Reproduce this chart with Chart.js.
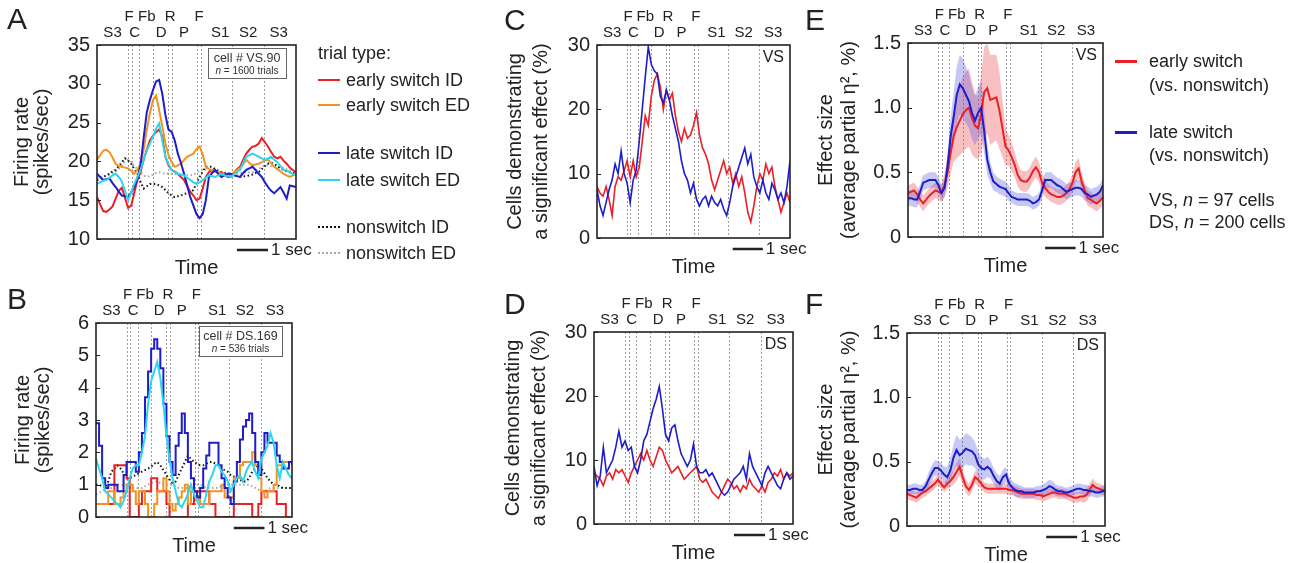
<!DOCTYPE html>
<html>
<head>
<meta charset="utf-8">
<title>Switch-related activity</title>
<script src="https://cdn.jsdelivr.net/npm/chart.js@4.4.1/dist/chart.umd.min.js"></script>
<style>
  body { margin: 0; background: #fff; }
  #fig { position: relative; width: 1311px; height: 563px; overflow: hidden; color: #222;
         font-family: "Liberation Sans", Arial, Helvetica, sans-serif; }
  #fig canvas { position: absolute; }
  .lbl { position: absolute; white-space: nowrap; }
  .sw { position: absolute; height: 0; }
</style>
</head>
<body>
<div id="fig"></div>
<script>
var FONT = '"Liberation Sans", Arial, Helvetica, sans-serif';
Chart.defaults.font.family = FONT;
Chart.defaults.color = '#222';

// time axis (sec), shared by all panels
var T = [0,0.1,0.2,0.3,0.4,0.5,0.6,0.7,0.8,0.9,
         1,1.1,1.2,1.3,1.4,1.5,1.6,1.7,1.8,1.9,
         2,2.1,2.2,2.3,2.4,2.5,2.6,2.7,2.8,2.9,
         3,3.1,3.2,3.3,3.4,3.5,3.6,3.7,3.8,3.9,
         4,4.1,4.2,4.3,4.4,4.5,4.6,4.7,4.8,4.9,
         5,5.1,5.2,5.3,5.4,5.5,5.6,5.7,5.8,5.9,
         6,6.1,6.2,6.3,6.4];

// task events (dotted lines) and their labels
var EVENT_T = [1.0, 1.11, 1.36, 1.79, 2.29, 2.40, 3.23, 3.34, 4.35, 5.38];
var TOP_LABELS = ['F', 'Fb', 'R', 'F'];
var TOP_T = [1.03, 1.6, 2.35, 3.28];
var BOT_LABELS = ['S3', 'C', 'D', 'P', 'S1', 'S2', 'S3'];
var BOT_T = [0.5, 1.21, 2.06, 2.8, 3.96, 4.86, 5.84];
var SCALE_BAR = [4.5, 5.5];

// A: cell VS.90 firing rate (spikes/sec)
var A_EARLY_ID = [15.4,14.5,13.6,13.5,13.8,14.2,15.2,16.2,16.6,15.3,
  14.0,14.3,16.0,17.6,18.6,20.2,21.5,22.7,23.3,23.8,
  24.1,23.2,20.6,19.5,18.9,18.7,18.4,18.0,17.6,16.8,
  16.1,15.6,15.0,15.2,16.5,18.0,18.6,18.9,18.7,18.5,
  18.6,18.3,18.0,18.0,18.5,19.0,19.3,20.2,21.0,21.5,
  21.9,22.0,22.3,23.0,22.5,21.9,21.2,20.6,20.4,20.6,
  20.1,19.7,19.2,18.9,18.6];
var A_EARLY_ED = [20.2,20.8,21.4,21.5,21.2,20.5,19.7,19.4,19.3,19.2,
  19.1,18.8,18.4,18.9,19.7,21.5,24.0,26.2,27.9,28.5,
  26.6,24.5,22.3,20.8,19.9,19.3,19.5,19.7,20.2,20.6,
  20.8,21.0,21.6,21.9,20.9,19.3,19.0,18.9,18.7,18.6,
  18.4,18.3,18.2,18.2,18.6,18.9,19.1,19.6,20.2,19.8,
  19.5,19.6,19.7,19.9,20.1,20.2,19.8,19.3,19.0,18.7,
  18.4,18.2,18.0,18.2,18.4];
var A_LATE_ID = [18.4,18.0,17.6,17.7,17.8,17.2,16.7,16.1,15.6,15.5,
  15.4,16.0,16.7,17.8,19.5,23.0,26.3,27.9,29.2,30.3,
  30.5,28.7,26.0,24.1,23.8,22.7,21.0,19.8,18.4,16.9,
  15.4,14.3,13.2,12.7,13.2,15.0,18.0,18.5,18.9,18.4,
  18.0,18.2,18.4,18.4,18.2,18.1,18.0,18.5,18.9,19.1,
  19.3,18.9,18.4,18.0,17.3,16.7,16.2,15.9,16.3,16.7,
  16.0,15.2,16.9,16.8,16.7];
var A_LATE_ED = [17.1,17.3,17.5,17.6,17.9,18.2,18.4,18.0,17.4,16.2,
  15.0,16.0,17.1,18.0,18.9,20.2,21.4,22.3,23.2,24.2,
  24.9,22.7,20.6,19.7,18.9,18.6,18.4,18.3,18.2,17.9,
  17.6,17.3,17.1,17.3,17.6,17.9,18.2,18.1,18.0,18.2,
  18.4,18.2,18.1,18.0,18.3,18.6,18.9,19.8,20.6,20.8,
  21.0,20.8,20.6,20.4,20.2,20.4,20.6,20.2,19.9,19.4,
  18.9,18.8,18.6,18.4,18.2];
var A_NON_ID = [17.6,17.8,18.0,18.2,18.4,18.7,18.9,19.4,19.9,20.4,
  20.1,19.7,19.0,18.4,17.4,16.5,16.8,17.1,17.1,17.1,
  16.9,16.7,16.3,15.9,15.6,15.4,15.5,15.6,15.8,15.9,
  16.1,16.3,17.2,18.0,18.7,19.3,19.3,19.3,19.0,18.8,
  18.6,18.5,18.4,18.4,18.3,18.1,18.0,18.1,18.1,18.2,
  18.3,18.5,18.6,19.0,19.4,19.7,19.8,19.7,19.4,19.1,
  18.9,18.7,18.6,18.5,18.4];
var A_NON_ED = [17.8,17.9,18.0,18.2,18.3,18.5,18.7,19.0,19.5,20.0,
  20.2,19.9,19.4,19.0,18.6,18.2,18.0,18.1,18.3,18.5,
  18.6,18.5,18.4,18.4,18.4,18.4,18.3,18.3,18.2,18.2,
  18.2,18.3,18.5,18.8,19.0,19.0,18.9,18.8,18.7,18.6,
  18.6,18.5,18.5,18.4,18.4,18.4,18.5,18.5,18.6,18.6,
  18.6,18.8,19.0,19.3,19.5,19.5,19.4,19.3,19.2,19.2,
  19.2,19.0,18.9,18.7,18.6];

// B: cell DS.169 firing rate (spikes/sec)
var B_EARLY_ID = [0.4,0.4,0.4,0.4,0.4,0.4,1.6,1.6,1.6,1.6,
  1.2,0,0,0,0.4,0.8,0.8,0.8,1.2,1.2,
  0.8,0.8,0.8,0.4,0,0,0,0,0,0,
  0.4,0.4,0.8,0.8,0.8,0.8,0.8,0.4,0.4,0,
  0,0,0,0,0,0.4,0.4,0.4,0.4,0.4,
  0.4,0,0,0.4,0.8,0.8,0.8,0.8,0.8,0.4,
  0.4,0.4,0,0,0];
var B_EARLY_ED = [0.4,0.4,0.4,0.4,0.8,0.8,0.4,0.4,0.6,0.8,
  1.0,1.0,0.8,0.4,0.8,0.8,0.4,0,0,0.4,
  0.8,0.8,1.2,0.8,0.4,0.2,0.4,0.6,0.8,1.0,
  0.4,0.8,0.8,0.6,0.4,0.4,0.4,0.8,0.8,0.8,
  0.8,1.0,0.6,0.6,0.6,1.2,1.2,1.6,1.7,1.7,
  1.7,2.0,1.6,1.2,0.8,0.6,0.8,0.8,1.0,1.6,
  1.6,1.7,1.7,1.7,1.7];
var B_LATE_ID = [2.9,2.2,1.2,0.9,1.0,1.0,1.0,0.8,0.8,1.3,
  1.7,1.7,1.7,1.4,2.0,2.6,3.7,4.5,5.2,5.5,
  5.2,4.6,3.5,2.5,1.7,1.3,2.2,2.6,3.2,2.6,
  1.7,1.2,0.8,0.6,0.9,1.5,1.9,2.3,2.3,2.3,
  1.6,1.2,0.9,0.6,0.4,1.1,1.7,2.4,2.8,3.0,
  3.2,2.6,1.7,1.3,2.0,2.6,2.3,2.3,2.3,1.9,
  1.7,1.5,1.5,1.7,1.6];
var B_LATE_ED = [1.8,1.5,1.2,0.8,0.7,0.6,0.5,0.4,0.3,0.5,
  0.8,1.2,1.5,1.6,1.6,2.0,2.5,3.5,4.2,4.5,
  4.8,4.3,3.5,2.5,1.8,1.2,0.8,0.4,0.3,0.5,
  0.7,1.0,0.7,0.5,0.3,0.3,0.7,1.1,1.3,1.6,
  1.6,1.4,1.3,1.1,0.8,1.0,1.2,1.3,1.1,1.4,
  1.6,1.7,1.4,1.2,1.8,2.0,2.2,2.6,2.3,1.6,
  1.2,1.7,1.5,1.3,1.2];
var B_NON_ID = [1.0,1.0,0.95,0.9,1.1,1.4,1.5,1.6,1.5,1.35,
  1.2,1.2,1.25,1.3,1.35,1.4,1.45,1.5,1.55,1.65,
  1.7,1.6,1.45,1.3,1.15,1.05,1.1,1.3,1.5,1.7,
  1.9,1.8,1.7,1.65,1.6,1.6,1.65,1.7,1.7,1.65,
  1.6,1.5,1.45,1.4,1.3,1.25,1.2,1.15,1.1,1.1,
  1.2,1.4,1.5,1.6,1.5,1.35,1.2,1.1,1.0,1.0,
  0.95,0.9,0.9,0.9,0.9];
var B_NON_ED = [0.7,0.75,0.8,0.85,0.9,0.9,0.95,1.0,1.0,1.0,
  1.0,0.95,0.9,0.9,0.9,0.9,0.95,1.0,1.05,1.1,
  1.1,1.05,1.0,1.0,1.0,1.0,0.95,0.9,0.9,0.9,
  0.9,0.95,1.0,1.0,1.0,0.95,0.9,0.9,0.9,0.9,
  0.9,0.95,1.0,1.0,1.0,1.0,1.0,1.0,1.0,1.0,
  1.0,0.95,0.9,0.85,0.8,0.8,0.85,0.9,0.9,0.9,
  0.9,0.9,0.9,0.9,0.9];

// C, D: cells demonstrating a significant effect (%)
var C_EARLY = [8,7,6.5,8,6,3.5,8,9.5,9,10.5,
  12,9.5,12,9.5,11,15,19,17.5,22,24.5,
  25.5,23.5,20,23,21.5,22.5,19,16.5,15,17,
  15.5,16,17.5,19.5,16,14,13,11.5,9,7.5,
  9,10.5,12,10,11,8.5,10,8,9.5,7,
  4,2.5,5,8,10,9,11.5,10,11,8,
  6,4,5.5,7,5.5];
var C_LATE = [7.5,5,3.5,5.5,7.5,9,11.5,10,13.5,10,
  8.5,5.5,9,10.5,15,20,25,29.7,27,26,
  25.5,22,21,23,21.5,19,17,15,12,10,
  9,7,8.5,6,5,6,6.5,5,6.5,5.5,
  5,6,4.5,3.5,5.5,8,9.5,11,12.5,14,
  11.5,13,9.5,8,7,9,7,6,8.5,7.5,
  6,7,5.5,8,12];
var D_EARLY = [8,7.5,7,6,7.5,8,7,8.5,8,8.5,
  7.5,6.5,8,9,10,11,10,11.5,10,9,
  10.5,12,11.5,10,9,8,8.5,9,8,7,
  7.5,8,8.5,9,7,6.5,7,6,5,4.5,
  4,5,6,7,6.5,5.5,6,5,6,5.5,
  7,6,5.5,5,6,5,6.5,7,8,7.5,
  8.5,7,8,7.5,8];
var D_LATE = [9,6,7.5,12,8,9,10,12,14.5,12,
  13,11.5,12,9,8,10,13,14,16,18,
  19.5,21.5,18,14,13,15,15.5,13,11,10,
  9,10,12.5,9,8,8,8.5,7.5,8,7,
  6,5,4.5,5,6,7,7.5,8,9,7,
  11,9,8,7,6,8,9,8,7,6,
  5.5,7,8,7,7.5];

// E, F: effect size (average partial eta^2, %), mean and s.e.m.
var E_EARLY = [0.34,0.35,0.36,0.33,0.29,0.26,0.29,0.32,0.34,0.36,
  0.35,0.34,0.4,0.5,0.65,0.78,0.85,0.9,0.95,0.98,
  1.0,0.92,0.86,0.84,0.95,1.12,1.15,1.06,1.07,1.08,
  0.98,0.84,0.7,0.67,0.62,0.56,0.48,0.44,0.43,0.43,
  0.46,0.51,0.54,0.5,0.42,0.38,0.35,0.33,0.32,0.31,
  0.31,0.32,0.34,0.37,0.42,0.5,0.53,0.43,0.36,0.3,
  0.29,0.27,0.26,0.28,0.31];
var E_EARLY_SEM = [0.06,0.06,0.06,0.06,0.06,0.06,0.06,0.06,0.06,0.06,
  0.06,0.07,0.09,0.12,0.16,0.2,0.24,0.27,0.29,0.3,
  0.3,0.28,0.25,0.24,0.3,0.35,0.35,0.35,0.34,0.33,
  0.3,0.22,0.15,0.12,0.11,0.1,0.09,0.08,0.08,0.08,
  0.08,0.08,0.08,0.08,0.07,0.07,0.06,0.06,0.06,0.06,
  0.06,0.06,0.06,0.06,0.07,0.08,0.08,0.07,0.06,0.06,
  0.06,0.06,0.06,0.06,0.06];
var E_LATE = [0.30,0.30,0.29,0.29,0.35,0.42,0.43,0.44,0.44,0.44,
  0.4,0.34,0.38,0.55,0.78,0.93,1.1,1.18,1.15,1.1,
  1.05,0.96,0.9,0.96,1.0,0.82,0.6,0.5,0.43,0.41,
  0.39,0.38,0.37,0.34,0.31,0.3,0.29,0.29,0.29,0.29,
  0.28,0.26,0.27,0.29,0.36,0.44,0.44,0.44,0.42,0.4,
  0.39,0.37,0.35,0.36,0.37,0.38,0.38,0.37,0.34,0.33,
  0.31,0.32,0.33,0.35,0.4];
var E_LATE_SEM = [0.06,0.06,0.06,0.06,0.06,0.06,0.06,0.06,0.06,0.06,
  0.06,0.06,0.07,0.1,0.15,0.19,0.22,0.23,0.23,0.22,
  0.21,0.2,0.19,0.2,0.2,0.17,0.12,0.08,0.07,0.06,
  0.06,0.06,0.06,0.06,0.05,0.05,0.05,0.05,0.05,0.05,
  0.05,0.05,0.05,0.05,0.06,0.06,0.06,0.06,0.06,0.06,
  0.06,0.06,0.06,0.06,0.06,0.06,0.06,0.06,0.06,0.06,
  0.06,0.06,0.06,0.06,0.06];
var F_EARLY = [0.25,0.24,0.23,0.22,0.24,0.26,0.27,0.29,0.31,0.33,
  0.36,0.33,0.3,0.33,0.35,0.38,0.42,0.46,0.38,0.31,
  0.28,0.32,0.38,0.36,0.33,0.3,0.29,0.29,0.29,0.29,
  0.29,0.29,0.29,0.28,0.28,0.27,0.26,0.25,0.25,0.25,
  0.25,0.25,0.24,0.24,0.23,0.24,0.25,0.26,0.26,0.25,
  0.25,0.25,0.24,0.23,0.22,0.22,0.23,0.23,0.24,0.28,
  0.32,0.3,0.29,0.28,0.28];
var F_EARLY_SEM = [0.04,0.04,0.04,0.04,0.04,0.04,0.04,0.04,0.04,0.04,
  0.04,0.04,0.04,0.04,0.05,0.06,0.07,0.07,0.06,0.05,
  0.05,0.05,0.05,0.05,0.04,0.04,0.04,0.04,0.04,0.04,
  0.04,0.04,0.04,0.04,0.04,0.04,0.04,0.04,0.04,0.04,
  0.04,0.04,0.04,0.04,0.04,0.04,0.04,0.04,0.04,0.04,
  0.04,0.04,0.04,0.04,0.04,0.04,0.04,0.05,0.05,0.05,
  0.05,0.04,0.04,0.04,0.04];
var F_LATE = [0.28,0.28,0.29,0.29,0.28,0.28,0.31,0.36,0.41,0.45,
  0.45,0.43,0.4,0.38,0.43,0.53,0.59,0.55,0.57,0.6,
  0.59,0.58,0.55,0.48,0.45,0.44,0.46,0.44,0.39,0.35,
  0.33,0.38,0.4,0.33,0.3,0.28,0.27,0.27,0.26,0.26,
  0.26,0.26,0.27,0.27,0.28,0.29,0.31,0.3,0.28,0.27,
  0.27,0.26,0.26,0.27,0.28,0.29,0.29,0.28,0.28,0.27,
  0.27,0.26,0.26,0.27,0.27];
var F_LATE_SEM = [0.04,0.04,0.04,0.04,0.04,0.04,0.04,0.06,0.06,0.06,
  0.06,0.06,0.06,0.08,0.1,0.1,0.12,0.12,0.12,0.12,
  0.12,0.11,0.1,0.1,0.09,0.08,0.08,0.07,0.06,0.06,
  0.06,0.06,0.06,0.05,0.05,0.05,0.05,0.04,0.04,0.04,
  0.04,0.04,0.04,0.04,0.045,0.05,0.05,0.05,0.045,0.04,
  0.04,0.04,0.04,0.04,0.04,0.04,0.04,0.04,0.04,0.04,
  0.04,0.04,0.04,0.04,0.04];

var RED = '#ec1f26', ORANGE = '#f39221', BLUE = '#1e1ec8', CYAN = '#2bd6ee';
var RED_BAND = 'rgba(240,90,95,0.38)', BLUE_BAND = 'rgba(85,85,225,0.32)';

var fig = document.getElementById('fig');

function line(data, color, width, order, dash, stepped) {
  return { data: data, borderColor: color, borderWidth: width, borderDash: dash || [],
           stepped: stepped || false, pointRadius: 0, fill: false, order: order };
}
// mean +/- sem as a shaded band (two datasets, upper fills down to lower)
function band(mean, sem, color, order) {
  var up = mean.map(function (m, i) { return m + sem[i]; });
  var lo = mean.map(function (m, i) { return m - sem[i]; });
  return [
    { data: up, borderColor: 'transparent', borderWidth: 0, backgroundColor: color, fill: '+1', pointRadius: 0, order: order },
    { data: lo, borderColor: 'transparent', borderWidth: 0, pointRadius: 0, fill: false, order: order }
  ];
}

var decor = {
  id: 'decor',
  beforeDatasetsDraw: function (chart, args, o) {
    var ctx = chart.ctx, a = chart.chartArea, xs = chart.scales.x;
    ctx.save();
    ctx.strokeStyle = '#9c9c9c';
    ctx.lineWidth = 1;
    ctx.setLineDash([2, 2]);
    EVENT_T.forEach(function (t) {
      var px = Math.round(xs.getPixelForValue(t)) + 0.5;
      ctx.beginPath(); ctx.moveTo(px, a.top); ctx.lineTo(px, a.bottom); ctx.stroke();
    });
    ctx.setLineDash([]);
    // white inset box hides the event lines under it
    if (o.cell) {
      ctx.fillStyle = '#fff';
      ctx.fillRect(a.right - 10 - o.boxW, a.top + 3, o.boxW + 1, 31);
    }
    ctx.restore();
  },
  afterDraw: function (chart, args, o) {
    var ctx = chart.ctx, a = chart.chartArea, xs = chart.scales.x, ys = chart.scales.y;
    ctx.save();
    ctx.strokeStyle = '#222';
    ctx.fillStyle = '#222';
    ctx.lineWidth = 1;
    ys.ticks.forEach(function (tk) {
      var py = Math.round(ys.getPixelForValue(tk.value)) + 0.5;
      ctx.beginPath(); ctx.moveTo(a.left, py); ctx.lineTo(a.left + 4, py); ctx.stroke();
    });
    ctx.lineWidth = 1.6;
    ctx.strokeRect(a.left, a.top, a.right - a.left, a.bottom - a.top);

    ctx.textAlign = 'center';
    ctx.textBaseline = 'middle';
    ctx.font = '15px ' + FONT;
    TOP_LABELS.forEach(function (s, i) { ctx.fillText(s, xs.getPixelForValue(TOP_T[i]), a.top - 28); });
    BOT_LABELS.forEach(function (s, i) { ctx.fillText(s, xs.getPixelForValue(BOT_T[i]), a.top - 12); });

    var by = a.bottom + 11;
    var b0 = xs.getPixelForValue(SCALE_BAR[0]), b1 = xs.getPixelForValue(SCALE_BAR[1]);
    ctx.lineWidth = 2.5;
    ctx.beginPath(); ctx.moveTo(b0, by); ctx.lineTo(b1, by); ctx.stroke();
    ctx.font = '17px ' + FONT;
    ctx.textAlign = 'left';
    ctx.fillText('1 sec', b1 + 3, by);

    ctx.font = '20px ' + FONT;
    ctx.textAlign = 'center';
    ctx.fillText('Time', (a.left + a.right) / 2, a.bottom + 29);

    if (o.tag) {
      ctx.font = '16px ' + FONT;
      ctx.textAlign = 'right';
      ctx.fillText(o.tag, a.right - 6, a.top + 13);
    }
    if (o.cell) {
      var bx = a.right - 10 - o.boxW, bt = a.top + 3;
      ctx.strokeStyle = '#666';
      ctx.lineWidth = 1;
      ctx.strokeRect(Math.round(bx) + 0.5, Math.round(bt) + 0.5, o.boxW, 30);
      var cx = bx + o.boxW / 2;
      ctx.fillStyle = '#333';
      ctx.textAlign = 'center';
      ctx.font = '12.5px ' + FONT;
      ctx.fillText(o.cell, cx, bt + 11);
      ctx.font = 'italic 10px ' + FONT;
      var w1 = ctx.measureText('n').width;
      ctx.font = '10px ' + FONT;
      var rest = ' = ' + o.trials, w2 = ctx.measureText(rest).width;
      var sx = cx - (w1 + w2) / 2;
      ctx.textAlign = 'left';
      ctx.font = 'italic 10px ' + FONT;
      ctx.fillText('n', sx, bt + 23);
      ctx.font = '10px ' + FONT;
      ctx.fillText(rest, sx + w1, bt + 23);
    }
    ctx.restore();
  }
};

function makePanel(box, ycfg, ytitle, titleX, datasets, deco) {
  var ML = 100, MT = 50, MR = 50, MB = 42;
  var cv = document.createElement('canvas');
  var w = box[2] - box[0] + ML + MR, h = box[3] - box[1] + MT + MB;
  cv.width = w; cv.height = h;
  cv.style.width = w + 'px'; cv.style.height = h + 'px';
  cv.style.left = (box[0] - ML) + 'px';
  cv.style.top = (box[1] - MT) + 'px';
  fig.appendChild(cv);
  var gap = titleX[1] - titleX[0];
  var pad = titleX[0] - (box[0] - ML) - gap / 2;
  var ticks = { stepSize: ycfg.step, padding: 7, font: { size: 20 }, color: '#222' };
  if (ycfg.fmt) ticks.callback = ycfg.fmt;
  return new Chart(cv, {
    type: 'line',
    data: { labels: T, datasets: datasets },
    options: {
      responsive: false,
      animation: false,
      events: [],
      layout: { padding: { left: 0, top: MT, right: MR, bottom: MB } },
      elements: { line: { tension: 0 }, point: { radius: 0 } },
      plugins: { legend: { display: false }, tooltip: { enabled: false }, decor: deco },
      scales: {
        x: { type: 'linear', display: false, min: 0, max: 6.4 },
        y: {
          min: ycfg.min, max: ycfg.max,
          afterFit: function (s) { s.width = ML; },
          grid: { display: false, drawTicks: false },
          border: { display: false },
          ticks: ticks,
          title: { display: true, text: ytitle, color: '#222',
                   font: { size: 20, lineHeight: gap / 20 }, padding: { top: pad, bottom: 0 } }
        }
      }
    },
    plugins: [decor]
  });
}

var oneDec = function (v) { return v === 0 ? '0' : v.toFixed(1); };
var DOT = [1.5, 2.5];

makePanel([97, 45, 296, 239], { min: 10, max: 35, step: 5 }, ['Firing rate', '(spikes/sec)'], [22, 42], [
  line(A_EARLY_ID, RED, 2, 4), line(A_EARLY_ED, ORANGE, 2, 3),
  line(A_LATE_ID, BLUE, 2, 2), line(A_LATE_ED, CYAN, 2, 1),
  line(A_NON_ID, '#111', 2, 5, DOT), line(A_NON_ED, '#a8a8a8', 2, 6, DOT)
], { cell: 'cell # VS.90', trials: '1600 trials', boxW: 78 });

makePanel([96, 323, 292, 517], { min: 0, max: 6, step: 1 }, ['Firing rate', '(spikes/sec)'], [23, 43], [
  line(B_EARLY_ID, RED, 2, 4, null, true), line(B_EARLY_ED, ORANGE, 2, 3, null, true),
  line(B_LATE_ID, BLUE, 2, 2, null, true), line(B_LATE_ED, CYAN, 2, 1),
  line(B_NON_ID, '#111', 2, 5, DOT), line(B_NON_ED, '#a8a8a8', 2, 6, DOT)
], { cell: 'cell # DS.169', trials: '536 trials', boxW: 83 });

makePanel([597, 45, 790, 238], { min: 0, max: 30, step: 10 }, ['Cells demonstrating', 'a significant effect (%)'], [515, 541], [
  line(C_EARLY, RED, 1.6, 2), line(C_LATE, BLUE, 1.6, 1)
], { tag: 'VS' });

makePanel([594, 332, 793, 524], { min: 0, max: 30, step: 10 }, ['Cells demonstrating', 'a significant effect (%)'], [513, 539], [
  line(D_EARLY, RED, 1.6, 2), line(D_LATE, BLUE, 1.6, 1)
], { tag: 'DS' });

makePanel([908, 43, 1103, 237], { min: 0, max: 1.5, step: 0.5, fmt: oneDec }, ['Effect size', '(average partial \u03b7\u00b2, %)'], [826, 849],
  band(E_EARLY, E_EARLY_SEM, RED_BAND, 4).concat(band(E_LATE, E_LATE_SEM, BLUE_BAND, 3), [
    line(E_EARLY, RED, 2, 2), line(E_LATE, BLUE, 2, 1)
  ]), { tag: 'VS' });

makePanel([907, 333, 1105, 526], { min: 0, max: 1.5, step: 0.5, fmt: oneDec }, ['Effect size', '(average partial \u03b7\u00b2, %)'], [826, 849],
  band(F_EARLY, F_EARLY_SEM, RED_BAND, 4).concat(band(F_LATE, F_LATE_SEM, BLUE_BAND, 3), [
    line(F_EARLY, RED, 2, 2), line(F_LATE, BLUE, 2, 1)
  ]), { tag: 'DS' });

// HTML text: panel letters and legends
function addText(html, x, y, size) {
  var d = document.createElement('div');
  d.className = 'lbl';
  d.innerHTML = html;
  d.style.left = x + 'px';
  d.style.top = (y - size / 2) + 'px';
  d.style.fontSize = size + 'px';
  d.style.lineHeight = size + 'px';
  fig.appendChild(d);
}
function addSwatch(x, y, w, color, width, dotted) {
  var d = document.createElement('div');
  d.className = 'sw';
  d.style.left = x + 'px';
  d.style.top = (y - width / 2) + 'px';
  d.style.width = w + 'px';
  d.style.borderTop = width + 'px ' + (dotted ? 'dotted ' : 'solid ') + color;
  fig.appendChild(d);
}

var LETTERS = ['A', 'B', 'C', 'D', 'E', 'F'];
var LETTER_POS = [[7, 19], [7, 299], [504, 20], [504, 304], [805, 20], [805, 304]];
LETTERS.forEach(function (s, i) { addText(s, LETTER_POS[i][0], LETTER_POS[i][1], 30); });

var LEG_A_LABELS = ['early switch ID', 'early switch ED', 'late switch ID', 'late switch ED', 'nonswitch ID', 'nonswitch ED'];
var LEG_A_COLORS = [RED, ORANGE, BLUE, CYAN, '#111', '#a8a8a8'];
var LEG_A_Y = [80, 105, 153, 180, 227, 253];
addText('trial type:', 318, 53, 18);
LEG_A_LABELS.forEach(function (s, i) {
  addSwatch(318, LEG_A_Y[i], 22, LEG_A_COLORS[i], 2, i >= 4);
  addText(s, 346, LEG_A_Y[i], 18);
});

addSwatch(1115, 61, 22, RED, 3);
addText('early switch', 1149, 61, 18);
addText('(vs. nonswitch)', 1149, 85, 18);
addSwatch(1115, 132, 22, BLUE, 3);
addText('late switch', 1149, 132, 18);
addText('(vs. nonswitch)', 1149, 155, 18);
addText('VS, <i>n</i> = 97 cells', 1149, 200, 18);
addText('DS, <i>n</i> = 200 cells', 1149, 222, 18);
</script>
</body>
</html>
